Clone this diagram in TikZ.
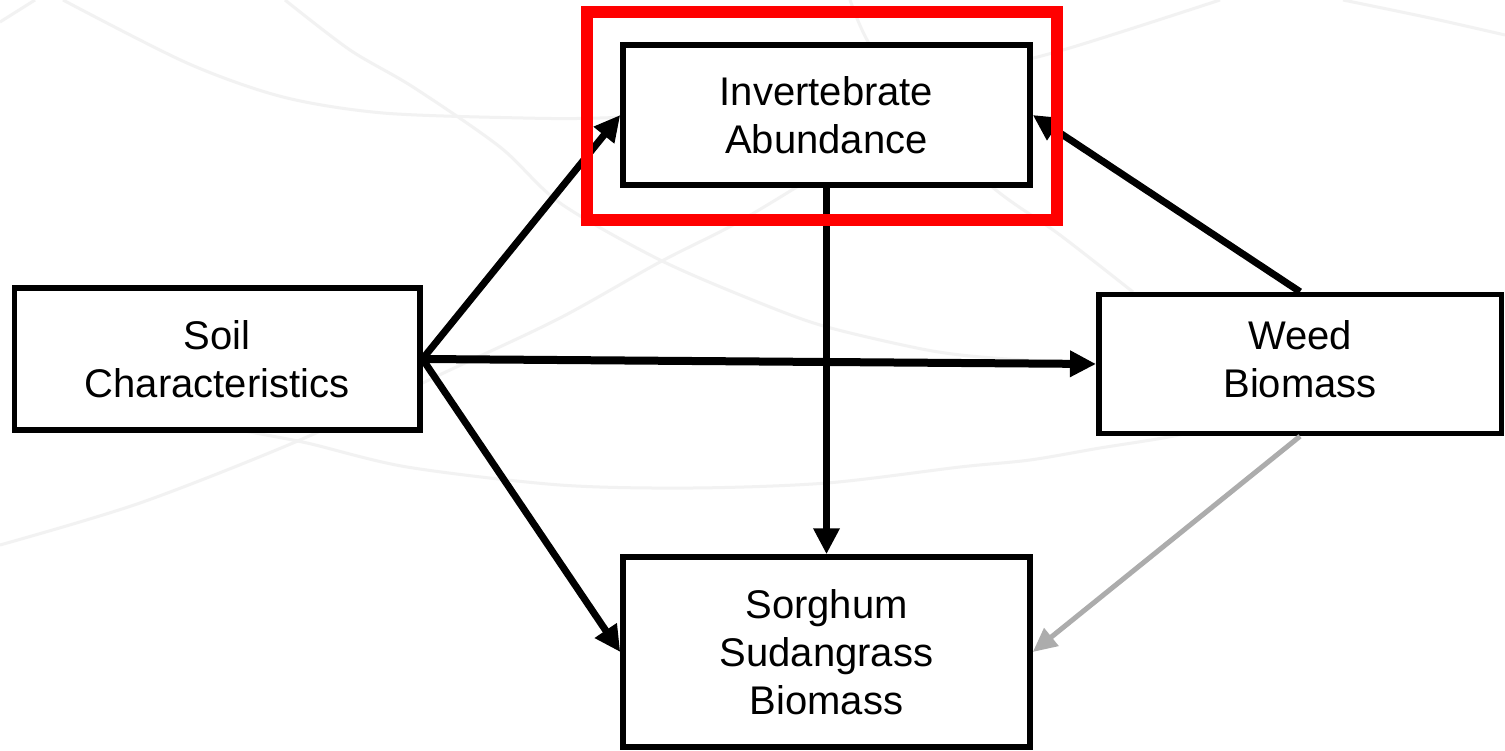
\documentclass[tikz,border=0pt]{standalone}
\usepackage{fontspec}
\setmainfont{Liberation Sans}
\usetikzlibrary{arrows.meta}
\definecolor{weakgray}{RGB}{172,172,172}
\definecolor{arcgray}{RGB}{242,242,242}
\definecolor{framered}{RGB}{255,0,0}
\begin{document}
\begin{tikzpicture}[x=1pt,y=-1pt,
  box/.style={draw=black, fill=white, line width=5.5pt, inner sep=0pt,
    align=center, font=\fontsize{40}{48}\selectfont},
  link/.style={line width=7pt, -{Triangle[length=26pt,width=25pt]}},
  weak/.style={line width=5pt, draw=weakgray, -{Triangle[length=24pt,width=22pt,fill=weakgray]}},
  bgarc/.style={draw=arcgray, line width=3pt}]
\useasboundingbox[fill=white] (0,0) rectangle (1505,751);

% faint background arcs
\draw[bgarc] plot[smooth] coordinates {(63,0) (187,63) (283,97) (383,113) (523,118) (600,118) (720,112) (850,95) (960,75) (1063,50) (1220,0)};
\draw[bgarc] plot[smooth] coordinates {(0,22) (35,0)};
\draw[bgarc] plot[smooth] coordinates {(285,0) (350,50) (413,87) (500,147) (560,203) (660,260) (760,303) (827,327) (927,350) (993,358) (1098,364)};
\draw[bgarc] plot[smooth] coordinates {(0,545) (140,503) (300,440) (450,370) (560,318) (660,262) (733,225) (800,185) (830,165)};
\draw[bgarc] plot[smooth] coordinates {(200,420) (240,430) (307,443) (407,467) (560,485) (693,488) (827,483) (960,467) (1030,460) (1100,448) (1163,438) (1230,425)};
\draw[bgarc] plot[smooth] coordinates {(1343,0) (1430,18) (1505,35)};
\draw[bgarc] plot[smooth] coordinates {(850,0) (870,45) (920,110) (990,185) (1060,235) (1133,292)};

% variables
\node[box, minimum width=407pt, minimum height=140pt] (inv) at (826.5,115) {Invertebrate\\Abundance};
\node[box, minimum width=405.5pt, minimum height=141.5pt] (soil) at (217,359) {Soil\\Characteristics};
\node[box, minimum width=402.5pt, minimum height=139pt] (weed) at (1300,364) {\raisebox{4pt}{\begin{tabular}{@{}c@{}}Weed\\[-0.3pt]Biomass\end{tabular}}};
\node[box, minimum width=407pt, minimum height=190pt] (sorghum) at (826.5,652) {Sorghum\\Sudangrass\\Biomass};

% paths
\draw[link] (soil.east) -- (inv.west);
\draw[link, line width=8pt] (soil.east) -- (weed.west);
\draw[link] (soil.east) -- (sorghum.west);
\draw[link] (inv.south) -- (sorghum.north);
\draw[link] (weed.north) -- (inv.east);
\draw[weak] (weed.south) -- (sorghum.east);

% highlight frame
\node[draw=framered, line width=12pt, minimum width=470pt, minimum height=208pt, inner sep=0pt] (focus) at (822,116) {};
\end{tikzpicture}
\end{document}
